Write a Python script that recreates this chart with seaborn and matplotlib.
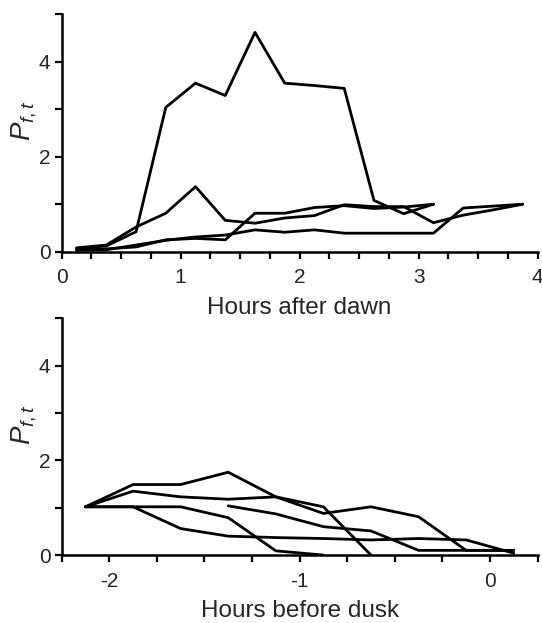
import matplotlib
matplotlib.use("Agg")
import matplotlib.pyplot as plt
from matplotlib.ticker import MultipleLocator, FixedLocator
import pandas as pd
import seaborn as sns

# Sampling times (hours), one point every 15 min, centred in each bin
dawn_hours = [0.125, 0.375, 0.625, 0.875, 1.125, 1.375, 1.625, 1.875,
              2.125, 2.375, 2.625, 2.875, 3.125, 3.375, 3.625, 3.875]
dusk_hours = [-2.125, -1.875, -1.625, -1.375, -1.125, -0.875, -0.625,
              -0.375, -0.125, 0.125]

# Hours after dawn: one list per trace (ends where the trace ends)
dawn_a = [0.07, 0.12, 0.42, 3.04, 3.55, 3.29, 4.62, 3.55, 3.50, 3.44, 1.08, 0.80, 1.00]
dawn_b = [0.08, 0.14, 0.52, 0.81, 1.37, 0.66, 0.60, 0.71, 0.76, 0.99, 0.95, 0.95, 0.61,
          0.77, 0.88, 1.00]
dawn_c = [0.04, 0.06, 0.10, 0.25, 0.28, 0.25, 0.81, 0.81, 0.93, 0.97, 0.91, 0.94, 1.00]
dawn_d = [0.03, 0.04, 0.14, 0.24, 0.31, 0.35, 0.46, 0.41, 0.46, 0.39, 0.39, 0.39, 0.39,
          0.92, 0.96, 1.00]

# Hours before dusk
dusk_1 = [1.02, 1.49, 1.49, 1.75, 1.23, 0.88, 1.02, 0.81, 0.10, 0.10]
dusk_2 = [1.02, 1.35, 1.23, 1.18, 1.23, 1.02, 0.00]
dusk_3 = [1.02, 1.02, 1.02, 0.79, 0.09, 0.00]
dusk_4 = [1.02, 1.02, 0.56, 0.40, 0.37, 0.35, 0.32, 0.35, 0.32, 0.04]
dusk_5 = [1.04, 0.87, 0.60, 0.51, 0.10, 0.10, 0.10]
dusk_5_start = 3  # this trace begins at the 4th time bin


def long_form(times, traces):
    rows = []
    for name, (start, vals) in traces.items():
        for t, v in zip(times[start:start + len(vals)], vals):
            rows.append({"hours": t, "p": v, "trace": name})
    return pd.DataFrame(rows)


dawn_df = long_form(dawn_hours, {"a": (0, dawn_a), "b": (0, dawn_b),
                                 "c": (0, dawn_c), "d": (0, dawn_d)})
dusk_df = long_form(dusk_hours, {"1": (0, dusk_1), "2": (0, dusk_2), "3": (0, dusk_3),
                                 "4": (0, dusk_4), "5": (dusk_5_start, dusk_5)})

sns.set_style("ticks")
plt.rcParams["font.family"] = ["Liberation Sans", "DejaVu Sans"]
plt.rcParams["mathtext.fontset"] = "custom"
plt.rcParams["mathtext.it"] = "Liberation Sans:italic"
plt.rcParams["mathtext.rm"] = "Liberation Sans"
plt.rcParams["axes.unicode_minus"] = False

fig = plt.figure(figsize=(5.42, 6.23), dpi=100)
ax_top = fig.add_axes([0.1138, 0.596, 0.878, 0.381])
ax_bot = fig.add_axes([0.1138, 0.109, 0.878, 0.380])


def style(ax, xlim, major, xlabel):
    ax.set_ylim(0, 5)
    ax.set_xlim(*xlim)
    ax.xaxis.set_major_locator(FixedLocator(major))
    ax.xaxis.set_minor_locator(MultipleLocator(0.25))
    ax.yaxis.set_major_locator(FixedLocator([0, 2, 4]))
    ax.yaxis.set_minor_locator(FixedLocator([1, 3, 5]))
    ax.tick_params(which="both", direction="out", length=5, width=1.6,
                   color="black", labelsize=15)
    ax.tick_params(axis="x", pad=7)
    ax.tick_params(axis="y", pad=3)
    for s in ("left", "bottom"):
        ax.spines[s].set_linewidth(1.8)
        ax.spines[s].set_color("black")
    sns.despine(ax=ax)
    ax.set_xlabel(xlabel, fontsize=17.5, labelpad=7)
    ax.set_ylabel(r"$P_{f,t}$", fontsize=20)
    ax.yaxis.set_label_coords(-0.048, 0.55)
    if ax.get_legend():
        ax.get_legend().remove()


sns.lineplot(data=dawn_df, x="hours", y="p", units="trace", estimator=None,
             color="black", linewidth=2, ax=ax_top)
sns.lineplot(data=dusk_df, x="hours", y="p", units="trace", estimator=None,
             color="black", linewidth=2, ax=ax_bot)

style(ax_top, (0, 4), [0, 1, 2, 3, 4], "Hours after dawn")
style(ax_bot, (-2.25, 0.25), [-2, -1, 0], "Hours before dusk")

fig.savefig("out.png", dpi=100)
